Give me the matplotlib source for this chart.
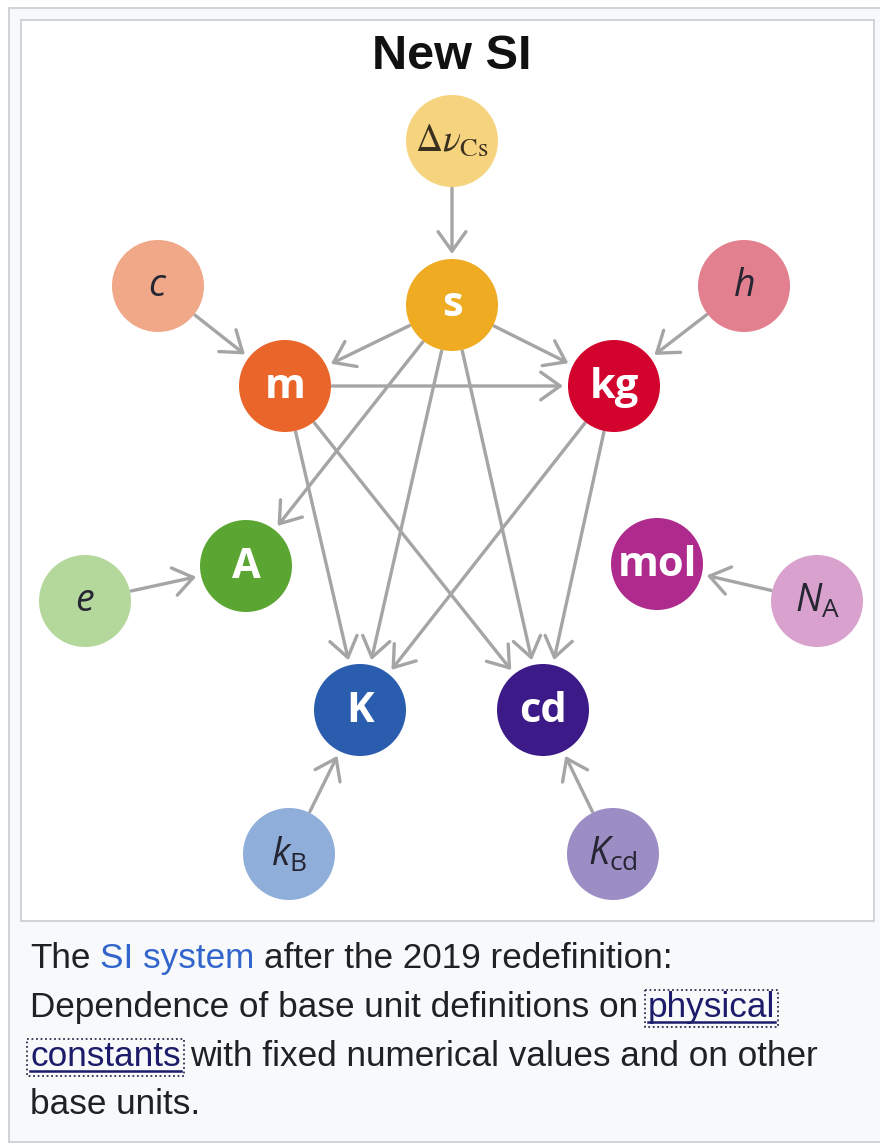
import matplotlib
matplotlib.use("Agg")
import matplotlib.pyplot as plt
from matplotlib.patches import Circle, Rectangle, FancyArrowPatch
import numpy as np

plt.rcParams['mathtext.fontset'] = 'custom'
plt.rcParams['mathtext.rm'] = 'Open Sans'
plt.rcParams['mathtext.it'] = 'Open Sans:italic'
plt.rcParams['mathtext.bf'] = 'Open Sans:bold'

title = "New SI"

# nodes of the graph (units and defining constants)
node_ids = ["dnu", "s", "c", "h", "m", "kg", "A", "e", "mol", "NA", "K", "cd", "kB", "Kcd"]
node_labels = [r"$\Delta\nu_{\mathrm{Cs}}$", "s", "$c$", "$h$", "m", "kg", "A", "$e$",
               "mol", r"$N_{\mathrm{A}}$", "K", "cd", r"$k_{\mathrm{B}}$", r"$K_{\mathrm{cd}}$"]
node_x = [452, 452, 158, 744, 285, 614, 246, 85, 657, 817, 360, 543, 289, 613]
node_y = [141, 305, 286, 286, 386, 386, 566, 601, 564, 601, 710, 710, 854, 854]
node_colors = ["#f6d37e", "#efac22", "#f0a889", "#e2808f", "#e9652a", "#d2042d", "#5ba633",
               "#b4d89c", "#ae2a8c", "#d9a2ce", "#2b5dae", "#3c1a88", "#8fafda", "#9c8dc5"]
is_unit = [False, True, False, False, True, True, True, False, True, False, True, True, False, False]

# "depends on" arrows: source -> target
edges = [("dnu", "s"), ("c", "m"), ("h", "kg"),
         ("s", "m"), ("s", "kg"), ("s", "A"), ("s", "K"), ("s", "cd"),
         ("m", "kg"), ("m", "K"), ("m", "cd"),
         ("kg", "K"), ("kg", "cd"),
         ("e", "A"), ("NA", "mol"), ("kB", "K"), ("Kcd", "cd")]

caption_lines = [
    [("The", "text"), ("SI system", "blue"), ("after the 2019 redefinition:", "text")],
    [("Dependence of base unit definitions on", "text"), ("physical", "link")],
    [("constants", "link"), ("with fixed numerical values and on other", "text")],
    [("base units.", "text")],
]

W, H = 880, 1143
radius = 46
arrow_col = "#a5a5a5"

fig = plt.figure(figsize=(W / 100, H / 100), dpi=100)
fig.patch.set_facecolor("white")
ax = fig.add_axes([0, 0, 1, 1])
ax.set_xlim(0, W)
ax.set_ylim(H, 0)
ax.axis("off")

# frames
ax.add_patch(Rectangle((9, 8), 900, 1134, facecolor="#f8f9fa", edgecolor="#c8ccd1", lw=1.2, zorder=0))
ax.add_patch(Rectangle((21, 20), 853, 901, facecolor="white", edgecolor="#c8ccd1", lw=1.2, zorder=0))

ax.text(452, 69, title, ha="center", va="baseline", fontsize=35, fontweight="bold",
        family="Liberation Sans", color="#111111")

idx = {n: i for i, n in enumerate(node_ids)}

for src, dst in edges:
    i, j = idx[src], idx[dst]
    p0 = np.array([node_x[i], node_y[i]], float)
    p1 = np.array([node_x[j], node_y[j]], float)
    d = (p1 - p0) / np.linalg.norm(p1 - p0)
    start = p0 + d * (radius + 1)
    end = p1 - d * (radius + 5)
    arr = FancyArrowPatch(start, end, arrowstyle="->,head_length=0.7,head_width=0.5",
                          mutation_scale=20, lw=2.4, color=arrow_col,
                          shrinkA=0, shrinkB=0, zorder=1, capstyle="round")
    ax.add_patch(arr)

for i, n in enumerate(node_ids):
    ax.add_patch(Circle((node_x[i], node_y[i]), radius, facecolor=node_colors[i],
                        edgecolor="none", zorder=2))
    if is_unit[i]:
        ax.text(node_x[i], node_y[i] + 1, node_labels[i], ha="center", va="center",
                fontsize=30, fontweight="bold", family="Open Sans", color="white", zorder=3)
    elif n == "dnu":
        ax.text(node_x[i], node_y[i], node_labels[i], ha="center", va="center",
                fontsize=27, color="#3a3020", math_fontfamily="stix", zorder=3)
    else:
        ax.text(node_x[i], node_y[i], node_labels[i], ha="center", va="center",
                fontsize=27, color="#262633", zorder=3)

# caption
fig.canvas.draw()
renderer = fig.canvas.get_renderer()
inv = ax.transData.inverted()
cap_size = 25.3
cap_colors = {"text": "#202122", "blue": "#3366cc", "link": "#1c1c6b"}

probe = ax.text(0, 0, "a a", fontsize=cap_size, family="Liberation Sans")
w1 = probe.get_window_extent(renderer).width
probe.set_text("aa")
w2 = probe.get_window_extent(renderer).width
probe.remove()
space = w1 - w2

baselines = [968, 1017, 1066, 1114]
for line, yb in zip(caption_lines, baselines):
    x = 30
    for seg, kind in line:
        t = ax.text(x, yb, seg, ha="left", va="baseline", fontsize=cap_size,
                    family="Liberation Sans", color=cap_colors[kind], zorder=3)
        bb = t.get_window_extent(renderer)
        (x0, y0), (x1, y1) = inv.transform([[bb.x0, bb.y0], [bb.x1, bb.y1]])
        if kind == "link":
            ax.plot([x0, x1], [yb + 5, yb + 5], color=cap_colors[kind], lw=1.8, zorder=3)
            ax.add_patch(Rectangle((x0 - 3, y1 - 1), x1 - x0 + 6, (y0 + 3) - (y1 - 1),
                                   fill=False, edgecolor="#303050", lw=1.3,
                                   linestyle=(0, (1, 1.5)), zorder=3))
        x = x1 + space

fig.savefig("out.png", dpi=100, facecolor=fig.get_facecolor())
